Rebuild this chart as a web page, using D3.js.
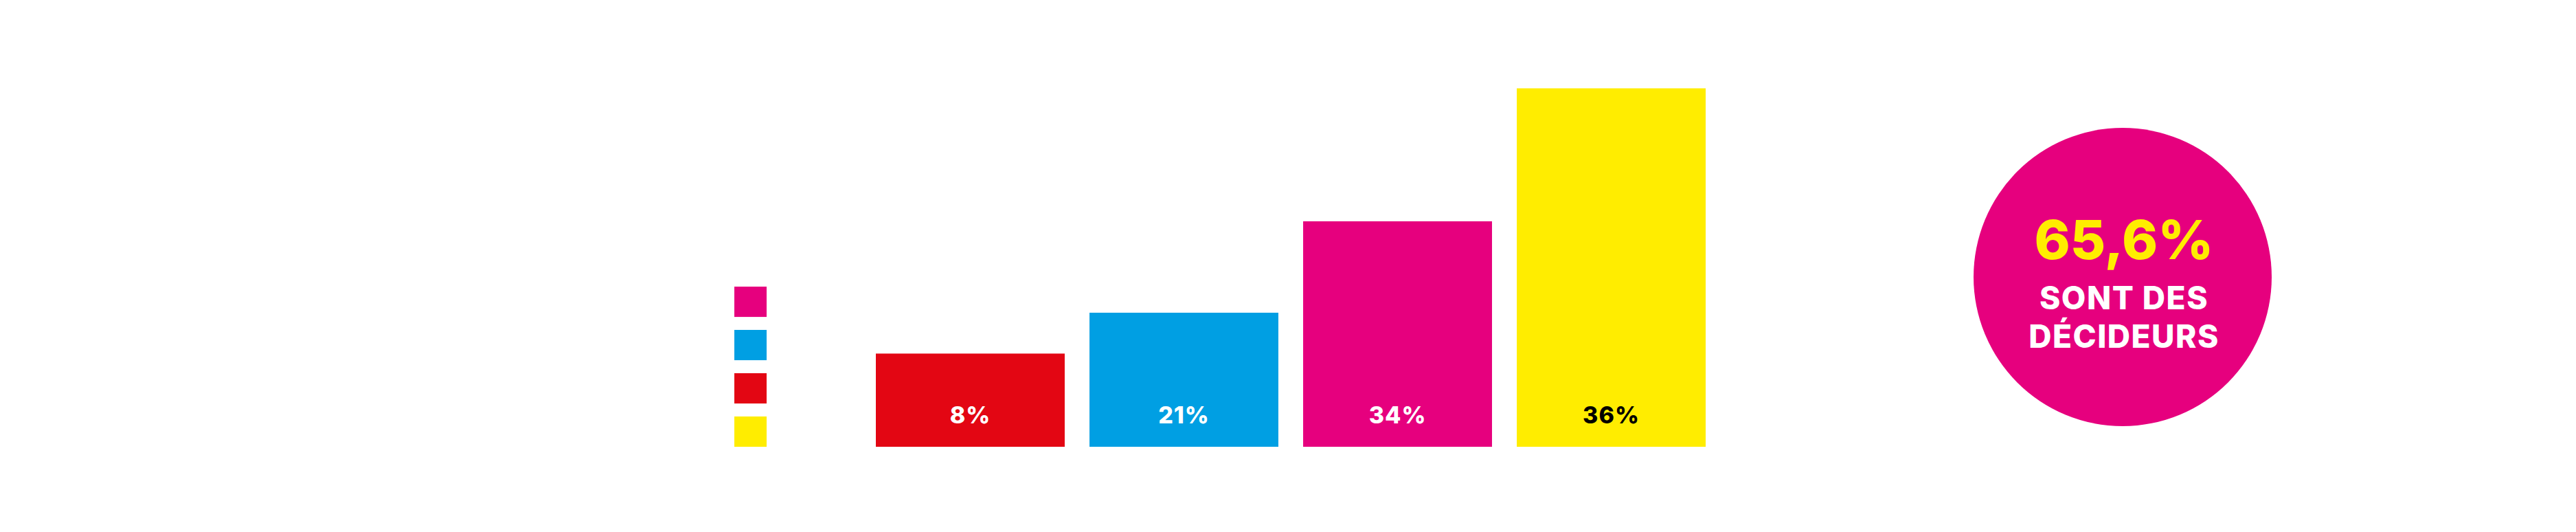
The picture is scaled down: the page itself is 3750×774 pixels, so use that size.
<!DOCTYPE html>
<html>
<head>
<meta charset="utf-8">
<script src="https://cdn.jsdelivr.net/npm/d3@7"></script>
<style>
  html, body { margin: 0; padding: 0; background: #fff; }
  svg { display: block; font-family: Inter, "Open Sans", sans-serif; }
</style>
</head>
<body>
<div id="chart"></div>
<script>
// données du graphique
const categories = ["a", "b", "c", "d"];
const labels = ["8%", "21%", "34%", "36%"];
// hauteur des barres (la plus haute = 100)
const barHeights = [26, 37.4, 62.9, 100];
const barColors = ["#E30613", "#009FE3", "#E6007E", "#FFED00"];
const labelColors = ["#fff", "#fff", "#fff", "#000"];
// légende (sans texte), de haut en bas
const legendColors = ["#E6007E", "#009FE3", "#E30613", "#FFED00"];
// encart
const bigNumber = "65,6%";
const bubbleLines = ["SONT DES", "DÉCIDEURS"];

const width = 3750, height = 774;

const svg = d3.select("#chart")
  .append("svg")
  .attr("width", width)
  .attr("height", height)
  .attr("viewBox", [0, 0, width, height]);

// échelles
const x = d3.scaleBand()
  .domain(categories)
  .range([1275, 2483])
  .paddingInner(0.116)
  .paddingOuter(0);

const y = d3.scaleLinear()
  .domain([0, 100])
  .range([650, 128.5]);

// barres
const bars = svg.append("g").attr("class", "bars");

bars.selectAll("rect")
  .data(categories)
  .join("rect")
  .attr("x", d => x(d))
  .attr("y", (d, i) => y(barHeights[i]))
  .attr("width", x.bandwidth())
  .attr("height", (d, i) => y(0) - y(barHeights[i]))
  .attr("fill", (d, i) => barColors[i]);

bars.selectAll("text")
  .data(categories)
  .join("text")
  .attr("x", d => x(d) + x.bandwidth() / 2)
  .attr("y", 616)
  .attr("text-anchor", "middle")
  .attr("font-size", 34)
  .attr("font-weight", 800)
  .attr("letter-spacing", 1)
  .attr("fill", (d, i) => labelColors[i])
  .text((d, i) => labels[i]);

// légende
const legendY = d3.scaleBand()
  .domain(d3.range(legendColors.length))
  .range([417, 650])
  .paddingInner(0.3)
  .paddingOuter(0);

svg.append("g").attr("class", "legend")
  .selectAll("rect")
  .data(legendColors)
  .join("rect")
  .attr("x", 1069)
  .attr("y", (d, i) => legendY(i))
  .attr("width", 47)
  .attr("height", legendY.bandwidth())
  .attr("fill", d => d);

// encart rond
const bubble = svg.append("g").attr("transform", "translate(3090,403)");

bubble.append("circle")
  .attr("r", 217)
  .attr("fill", "#E6007E");

bubble.append("text")
  .attr("x", 2)
  .attr("y", -26)
  .attr("text-anchor", "middle")
  .attr("font-size", 79)
  .attr("font-weight", 800)
  .attr("fill", "#FFED00")
  .text(bigNumber);

bubble.selectAll("text.line")
  .data(bubbleLines)
  .join("text")
  .attr("class", "line")
  .attr("x", 2)
  .attr("y", (d, i) => 47 + i * 56)
  .attr("text-anchor", "middle")
  .attr("font-size", 46)
  .attr("font-weight", 800)
  .attr("letter-spacing", 1.5)
  .attr("fill", "#fff")
  .text(d => d);
</script>
</body>
</html>
